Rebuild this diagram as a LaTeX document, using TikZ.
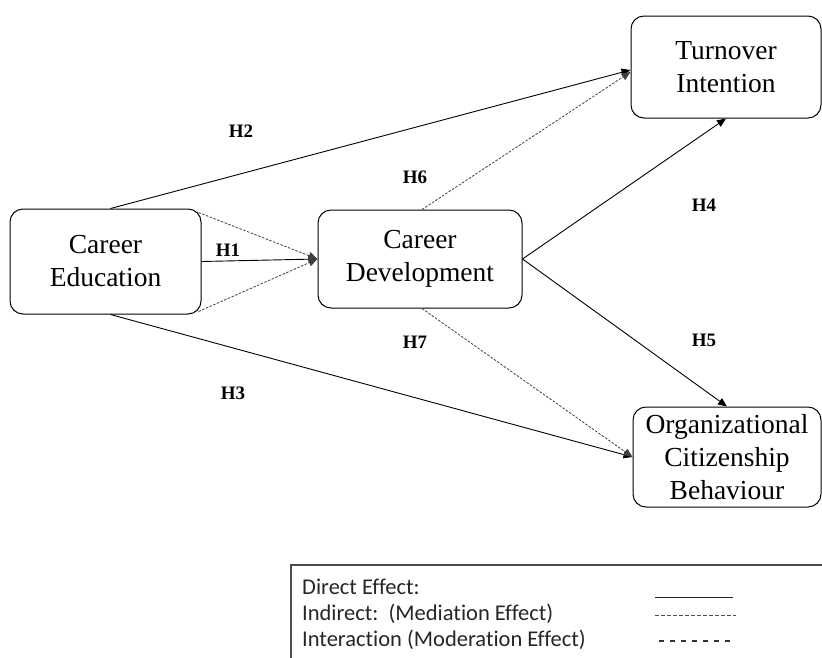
\documentclass[tikz,border=0pt]{standalone}
\usepackage{fontspec}
\setmainfont{Liberation Serif}
\newfontfamily\legendfont[Ligatures=NoCommon]{Carlito}
\usetikzlibrary{arrows.meta}
\begin{document}
\begin{tikzpicture}[x=1pt,y=-1pt,
  box/.style={draw, line width=1pt, rounded corners=13pt, align=center,
    inner sep=0pt, font=\fontsize{27.5}{33}\selectfont},
  lbl/.style={font=\bfseries\fontsize{19}{21}\selectfont},
  arr/.style={line width=0.9pt, -{Triangle[length=9pt,width=7.5pt]}},
  dsh/.style={line width=0.8pt, draw=black!75, dash pattern=on 2.5pt off 1.5pt, -{Triangle[length=9pt,width=7.5pt]}},
  leg/.style={anchor=base west, inner sep=0pt, text=black!85, font=\legendfont\fontsize{22.5}{26}\selectfont}]
\useasboundingbox (0,0) rectangle (822,657);

% boxes
\node[box, minimum width=191pt, minimum height=105pt] (CE) at (105.5,261.5) {Career\\Education};
\node[box, minimum width=204pt, minimum height=98pt] (CD) at (420,259) {Career\\Development};
\node[box, minimum width=190pt, minimum height=102pt] (TI) at (726,67) {Turnover\\Intention};
\node[box, minimum width=188pt, minimum height=100pt] (OCB) at (727,457) {Organizational\\Citizenship\\Behaviour};

% connectors
\draw[arr] ([xshift=5pt]CE.north) -- ([yshift=-3pt]TI.west);
\draw[dsh] ([xshift=2pt]CD.north) -- ([yshift=-5pt]TI.west);
\draw[arr] (CD.east) -- (TI.south);
\draw[arr] (CE.east) -- (CD.west);
\draw[dsh] ([xshift=-3pt,yshift=-4pt]CE.north east) -- (CD.west);
\draw[dsh] ([xshift=-3pt,yshift=3pt]CE.south east) -- (CD.west);
\draw[arr] ([xshift=5pt]CE.south) -- (OCB.west);
\draw[dsh] ([xshift=2pt]CD.south) -- (OCB.west);
\draw[arr] (CD.east) -- (OCB.north);

% labels
\node[lbl] (h1) at (228,250) {H1};
\node[lbl] (h2) at (241,131) {H2};
\node[lbl] (h3) at (233,393) {H3};
\node[lbl] (h4) at (704,205) {H4};
\node[lbl] (h5) at (704,340) {H5};
\node[lbl] (h6) at (415,177) {H6};
\node[lbl] (h7) at (415,342) {H7};

% legend
\draw[line width=1.4pt, draw=black!70] (830,565) -- (291,565) -- (291,665);
\node[leg] (l1) at (302,594) {Direct Effect:};
\node[leg] (l2) at (302,620) {Indirect:\ \ (Mediation Effect)};
\node[leg] (l3) at (302,646) {Interaction (Moderation Effect)};
\coordinate (s1a) at (655,597); \coordinate (s1b) at (733,597);
\coordinate (s2a) at (655,615); \coordinate (s2b) at (736,615);
\coordinate (s3a) at (659,641); \coordinate (s3b) at (730,641);
\draw[line width=1pt, draw=black!85] (s1a) -- (s1b);
\draw[line width=1pt, draw=black!70, dash pattern=on 4pt off 2pt] (s2a) -- (s2b);
\draw[line width=1.1pt, draw=black!80, dash pattern=on 5pt off 6pt] (s3a) -- (s3b);
\end{tikzpicture}
\end{document}
